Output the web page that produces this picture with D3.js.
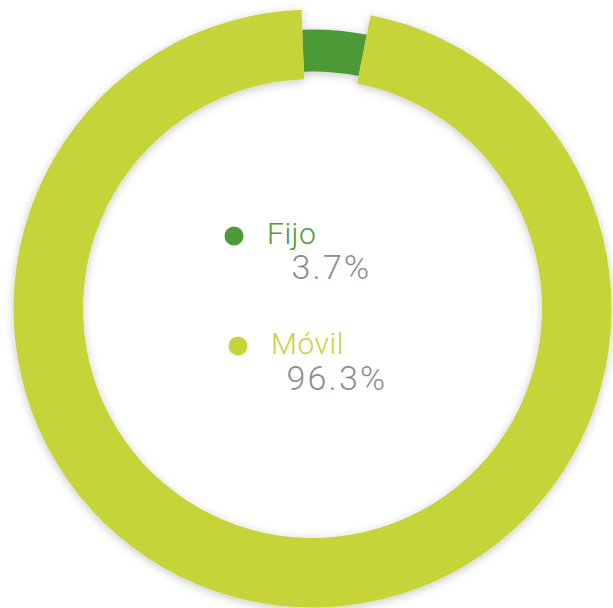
<!DOCTYPE html>
<html>
<head>
<meta charset="utf-8">
<script src="https://cdn.jsdelivr.net/npm/d3@7"></script>
<style>
  body { margin: 0; background: #fff; }
  text { font-family: Roboto, "Liberation Sans", Arial, sans-serif; font-weight: 300; }
</style>
</head>
<body>
<svg width="613" height="608"></svg>
<script>
(function() {

  // data
  var categories = ["Fijo", "Móvil"];
  var shares = [3.7, 96.3];
  var shareLabels = ["3.7%", "96.3%"];
  var colors = ["#4c9a36", "#c5d439"];

  var svg = d3.select("svg");
  var cx = 312.5, cy = 308.5;

  // ring radii per slice (Fijo is drawn thinner)
  var radii = [
    {inner: 237, outer: 279},
    {inner: 229.5, outer: 299}
  ];

  var defs = svg.append("defs");
  var f = defs.append("filter").attr("id", "shadow")
      .attr("x", "-20%").attr("y", "-20%").attr("width", "140%").attr("height", "140%");
  f.append("feDropShadow")
    .attr("dx", 0).attr("dy", 2)
    .attr("stdDeviation", 5)
    .attr("flood-color", "#000")
    .attr("flood-opacity", 0.22);

  var start = -2.1 * Math.PI / 180;
  var pie = d3.pie().sort(null).value(function(d) { return d; })
      .startAngle(start).endAngle(start + 2 * Math.PI);
  var arcs = pie(shares);

  var ring = svg.append("g")
      .attr("transform", "translate(" + cx + "," + cy + ")")
      .attr("filter", "url(#shadow)");

  ring.selectAll("path")
    .data(arcs)
    .enter().append("path")
    .attr("fill", function(d, i) { return colors[i]; })
    .attr("d", function(d, i) {
      return d3.arc().innerRadius(radii[i].inner).outerRadius(radii[i].outer)(d);
    });

  // legend in the middle
  var rowY = d3.scalePoint().domain(categories).range([236, 346]);
  var rowDx = [0, 4];
  var pctDx = [57.5, 48.5];

  var leg = svg.append("g").selectAll("g")
    .data(categories)
    .enter().append("g")
    .attr("transform", function(d, i) {
      return "translate(" + (234 + rowDx[i]) + "," + rowY(d) + ")";
    });

  leg.append("circle")
    .attr("r", 9.5)
    .attr("fill", function(d, i) { return colors[i]; });

  leg.append("text")
    .attr("x", 33)
    .attr("y", 8)
    .attr("font-size", 30)
    .attr("letter-spacing", 0.5)
    .attr("fill", function(d, i) { return colors[i]; })
    .text(function(d) { return d; });

  leg.append("text")
    .attr("x", function(d, i) { return pctDx[i]; })
    .attr("y", function(d, i) { return i == 0 ? 43 : 44; })
    .attr("font-size", 34)
    .attr("letter-spacing", 2.2)
    .attr("fill", "#8c8c8c")
    .text(function(d, i) { return shareLabels[i]; });

})();
</script>
</body>
</html>
